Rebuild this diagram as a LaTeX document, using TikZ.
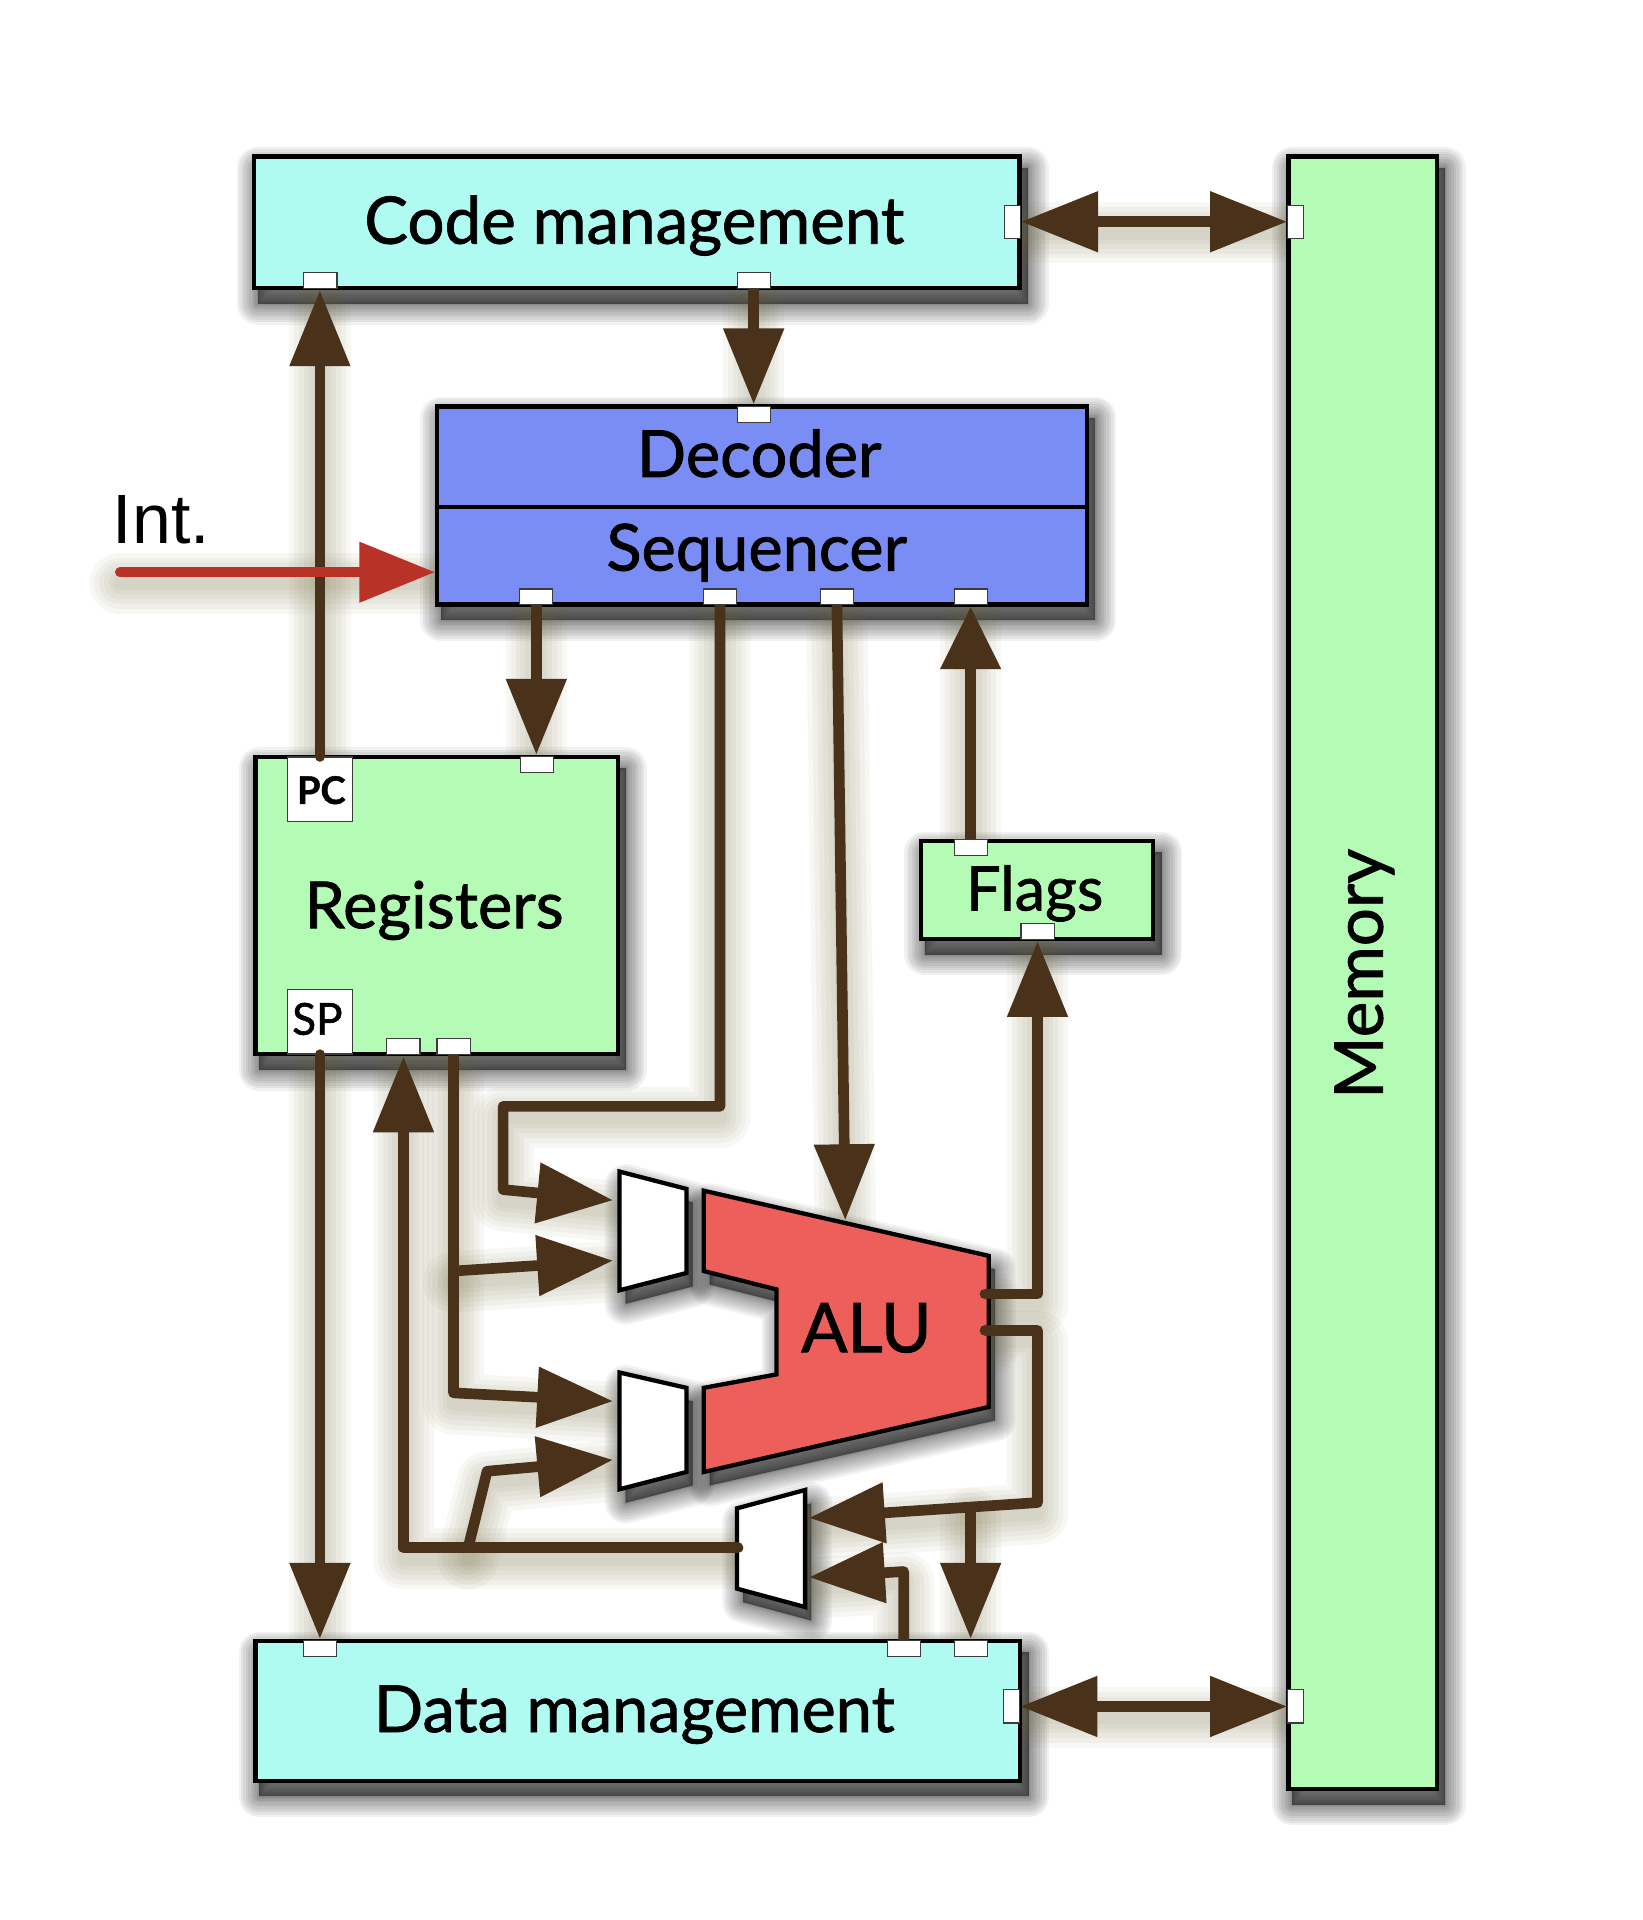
\documentclass[tikz,border=0pt]{standalone}
\usepackage{fontspec}
\setmainfont{Lato}[FakeBold=1.2]
\newfontfamily\helv{Liberation Sans}
\usetikzlibrary{arrows.meta}
\definecolor{cyanbox}{RGB}{175,251,242}
\definecolor{greenbox}{RGB}{180,251,182}
\definecolor{bluebox}{RGB}{122,141,245}
\definecolor{alured}{RGB}{237,95,90}
\definecolor{wirebrown}{RGB}{74,49,26}
\definecolor{intred}{RGB}{184,50,40}
\definecolor{glowc}{RGB}{110,105,55}
\definecolor{portline}{RGB}{60,60,60}
\pgfdeclarelayer{back}
\pgfdeclarelayer{shade}
\pgfdeclarelayer{glow}
\pgfdeclarelayer{wires}
\pgfdeclarelayer{ports}
\pgfsetlayers{back,shade,glow,main,wires,ports}
\newcommand\cpuwire[2][]{%
  \begin{pgfonlayer}{glow}
    \begin{scope}[transform canvas={yshift=-9pt}]
      \path[glowline] #2;
    \end{scope}
  \end{pgfonlayer}
  \begin{pgfonlayer}{wires}
    \draw[wire,#1] #2;
  \end{pgfonlayer}}
\newcommand\dropshadow[1]{%
  \begin{pgfonlayer}{shade}
    \begin{scope}[transform canvas={xshift=5pt,yshift=-11pt}]
      \path[shadowstack] #1;
    \end{scope}
  \end{pgfonlayer}}
\begin{document}
\begin{tikzpicture}[x=1pt,y=-1pt,
  box/.style={draw=black, line width=3.5pt, inner sep=0pt},
  plainbox/.style={draw=portline, line width=1pt, fill=white, inner sep=0pt},
  port/.style={draw=portline, line width=0.9pt, fill=white, inner sep=0pt,
    minimum width=27pt, minimum height=13pt},
  vport/.style={port, minimum width=13pt, minimum height=27pt},
  unitshape/.style={draw=black, line width=3.5pt, line join=miter},
  wire/.style={draw=wirebrown, line width=8.7pt, line cap=round, line join=round},
  wtip/.style={-{Triangle[length=62pt 0 0,width=47.6pt 0 0]}},
  wtipshort/.style={-{Triangle[length=51pt 0 0,width=47.6pt 0 0]}},
  wdbl/.style={{Triangle[length=63pt 0 0,width=47.6pt 0 0]}-{Triangle[length=63pt 0 0,width=47.6pt 0 0]}},
  gl/.style={preaction={draw=glowc,line width=#1,opacity=0.05,line cap=round,line join=round}},
  glowline/.style={gl=50pt,gl=42pt,gl=34pt,gl=26pt,gl=18pt,gl=11pt},
  sh/.style={preaction={fill=black,draw=black,opacity=0.055,line width=#1,line join=round}},
  shadowstack/.style={sh=34pt,sh=30pt,sh=26pt,sh=22pt,sh=18pt,sh=14pt,sh=10pt,sh=7pt,sh=4pt,sh=2pt,sh=1pt},
  lbl/.style={inner sep=0pt, anchor=base, text=black}
]
\useasboundingbox (0,0) rectangle (1341.75,1568);
\begin{pgfonlayer}{back}
  \fill[white] (0,0) rectangle (1341.75,1568);
\end{pgfonlayer}

% ---------- boxes ----------
\node[box, fill=cyanbox, minimum width=625.3pt, minimum height=107.6pt] (code) at (519.9,181.55) {};
\node[box, fill=greenbox, minimum width=121.1pt, minimum height=1333.3pt] (mem) at (1112.8,794.4) {};
\node[box, fill=bluebox, minimum width=530.7pt, minimum height=81.8pt] (dec) at (622.5,372.9) {};
\node[box, fill=bluebox, minimum width=530.7pt, minimum height=79.95pt] (seq) at (622.5,453.8) {};
\node[box, fill=greenbox, minimum width=295.9pt, minimum height=242.8pt] (regs) at (356.5,739.55) {};
\node[plainbox, minimum width=53.5pt, minimum height=52.9pt] (pc) at (261.25,644.75) {};
\node[plainbox, minimum width=53.5pt, minimum height=52.6pt] (sp) at (261.25,834.5) {};
\node[box, fill=greenbox, minimum width=189.7pt, minimum height=79.9pt] (flags) at (847,726.8) {};
\node[box, fill=cyanbox, minimum width=624.7pt, minimum height=114.1pt] (data) at (520.9,1397.2) {};

\dropshadow{(code.north west) rectangle (code.south east)}
\dropshadow{(mem.north west) rectangle (mem.south east)}
\dropshadow{(dec.north west) rectangle (seq.south east)}
\dropshadow{(regs.north west) rectangle (regs.south east)}
\dropshadow{(flags.north west) rectangle (flags.south east)}
\dropshadow{(data.north west) rectangle (data.south east)}

% ---------- multiplexers and ALU ----------
\draw[unitshape, fill=white] (506,956.8) -- (560.6,970.9) -- (560.6,1039.6) -- (506,1053.7) -- cycle;
\draw[unitshape, fill=white] (506,1120.9) -- (560.6,1133.4) -- (560.6,1202.1) -- (506,1216.2) -- cycle;
\draw[unitshape, fill=alured] (574.7,972.4) -- (807.5,1025.6) -- (807.5,1149) -- (574.7,1202.1)
  -- (574.7,1133.4) -- (634.1,1122.4) -- (634.1,1053) -- (574.7,1038) -- cycle;
\draw[unitshape, fill=white] (601.9,1231.8) -- (657.5,1216.8) -- (657.5,1312.4) -- (601.9,1297.4) -- cycle;
\dropshadow{(506,956.8) -- (560.6,970.9) -- (560.6,1039.6) -- (506,1053.7) -- cycle}
\dropshadow{(506,1120.9) -- (560.6,1133.4) -- (560.6,1202.1) -- (506,1216.2) -- cycle}
\dropshadow{(574.7,972.4) -- (807.5,1025.6) -- (807.5,1149) -- (574.7,1202.1)
  -- (574.7,1133.4) -- (634.1,1122.4) -- (634.1,1053) -- (574.7,1038) -- cycle}
\dropshadow{(601.9,1231.8) -- (657.5,1216.8) -- (657.5,1312.4) -- (601.9,1297.4) -- cycle}

% ---------- labels ----------
\node[lbl, font=\fontsize{53.5pt}{58pt}\selectfont] (tcode) at (518,199) {Code management};
\node[lbl, font=\fontsize{53pt}{58pt}\selectfont] (tdata) at (518,1414.5) {Data management};
\node[lbl, font=\fontsize{53pt}{56pt}\selectfont] (tdec) at (620,389.5) {Decoder};
\node[lbl, font=\fontsize{53pt}{56pt}\selectfont] (tseq) at (618,466) {Sequencer};
\node[lbl, font=\fontsize{53pt}{56pt}\selectfont] (tregs) at (354.5,758) {Registers};
\node[lbl, font=\fontsize{50pt}{54pt}\selectfont] (tflags) at (845,743.5) {Flags};
\node[lbl, font=\fontsize{56pt}{58pt}\selectfont] (talu) at (707.5,1104.3) {ALU};
\node[lbl, rotate=90, font=\fontsize{55pt}{58pt}\selectfont] (tmem) at (1129.2,795.3) {Memory};
\node[lbl, font=\bfseries\fontsize{31pt}{33pt}\selectfont] (tpc) at (262.4,656.5) {PC};
\node[lbl, font=\fontsize{36pt}{38pt}\selectfont] (tsp) at (259.2,845) {SP};
\node[inner sep=0pt, anchor=base west, font=\helv\fontsize{57pt}{60pt}\selectfont] (tint) at (92,443.6) {Int.};

% ---------- ports ----------
\begin{pgfonlayer}{ports}
  \node[port] (cmp1) at (261.7,228.9) {};
  \node[port] (cmp2) at (615.5,228.9) {};
  \node[vport] (cmp3) at (826.8,181.1) {};
  \node[port] (decp) at (615.5,338.4) {};
  \node[port] (seqp1) at (438,487.5) {};
  \node[port] (seqp2) at (588,487.5) {};
  \node[port] (seqp3) at (683.5,487.5) {};
  \node[port] (seqp4) at (792.8,487.5) {};
  \node[port] (regp0) at (438.4,624.4) {};
  \node[port] (regp1) at (329.5,854.9) {};
  \node[port] (regp2) at (370.4,854.9) {};
  \node[port] (flp1) at (792.7,692.3) {};
  \node[port] (flp2) at (847.3,760.6) {};
  \node[port] (dmp1) at (261.5,1346.4) {};
  \node[port] (dmp2) at (738,1346.4) {};
  \node[port] (dmp3) at (792.7,1346.4) {};
  \node[vport] (dmp4) at (826.3,1393.6) {};
  \node[vport] (memp1) at (1058.2,181.1) {};
  \node[vport] (memp2) at (1058.2,1393.6) {};
\end{pgfonlayer}

% ---------- connection points ----------
\coordinate (m1a) at (500.7,980.2);
\coordinate (m1b) at (500.7,1029.5);
\coordinate (m2a) at (500.7,1144.3);
\coordinate (m2b) at (500.7,1192.2);
\coordinate (m3a) at (660.6,1239.6);
\coordinate (m3b) at (660.6,1288.1);
\coordinate (m3out) at (602.7,1264);
\coordinate (alutop) at (690.3,996.5);
\coordinate (aluo1) at (804.4,1056.8);
\coordinate (aluo2) at (804.4,1086.5);
\coordinate (j1) at (370.4,1038);
\coordinate (j2) at (382.3,1264);
\coordinate (j3) at (792.7,1231);
\coordinate (intst) at (98,467.3);

% ---------- wires ----------
\cpuwire[wtip]{(pc.north) -- (pc.north |- code.south)}
\cpuwire[wtip]{(cmp2.south) -- (cmp2.south |- dec.north)}
\cpuwire[wtip]{(seqp1.south) -- (seqp1.south |- regs.north)}
\cpuwire[wtip]{(seqp2.south) -- (588,903.5) -- (410.9,903.5) -- (410.9,971.5) -- (m1a)}
\cpuwire[wtip]{(seqp3.south) -- (alutop)}
\cpuwire[wtipshort]{(flp1.north) -- (flp1.north |- seq.south)}
\cpuwire[wtip]{(aluo1) -| (flp2.south |- flags.south)}
\cpuwire[wtip]{(aluo2) -- (847.3,1086.5) -- (847.3,1227.1) -- (m3a)}
\cpuwire[wtip]{(j3) -- (j3 |- data.north)}
\cpuwire[wtip]{(dmp2.north) -- (738,1283.4) -- (m3b)}
\cpuwire[wtip]{(regp2.south) -- (370.4,1137.5) -- (m2a)}
\cpuwire[wtip]{(j1) -- (m1b)}
\cpuwire[wtip]{(m3out) -| (regp1.south |- regs.south)}
\cpuwire[wtip]{(j2) -- (397.8,1201.5) -- (m2b)}
\cpuwire[wtip]{(sp.south) -- (sp.south |- data.north)}
\cpuwire[wdbl]{(cmp3.east) -- (memp1.west)}
\cpuwire[wdbl]{(dmp4.east) -- (memp2.west)}
\cpuwire[wtip, draw=intred, line width=8.2pt]{(intst) -- (intst -| seq.west)}
\end{tikzpicture}
\end{document}
